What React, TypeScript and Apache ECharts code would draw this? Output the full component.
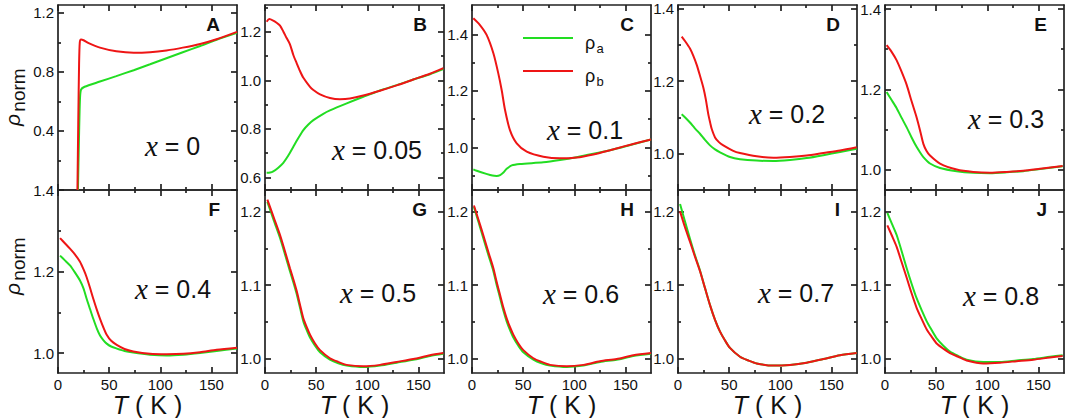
import React, { useEffect, useRef } from "react";
import * as echarts from "echarts";

// ---------------- data ----------------
const LETTERS = ["A", "B", "C", "D", "E", "F", "G", "H", "I", "J"];
const DOPING = ["0", "0.05", "0.1", "0.2", "0.3", "0.4", "0.5", "0.6", "0.7", "0.8"];
const T_MIN = 0;
const T_MAX = 175;
const T_TICKS = [0, 50, 100, 150];
const T_MINOR = [25, 75, 125];

// [T (K), rho_norm] pairs; *_a = rho_a (green), *_b = rho_b (red)
const A_a = [[19.5, 0], [20.5, 0.35], [21.5, 0.62], [22.5, 0.68], [26, 0.7], [41, 0.735], [57, 0.772], [74, 0.812], [90, 0.852], [106, 0.893], [122, 0.934], [139, 0.976], [155, 1.018], [175, 1.065]];
const A_b = [[19, 0], [19.8, 0.45], [20.6, 0.85], [21.3, 1.0], [22.5, 1.02], [25, 1.015], [30, 0.995], [41, 0.965], [57, 0.94], [74, 0.93], [90, 0.934], [106, 0.946], [122, 0.965], [139, 0.99], [155, 1.022], [175, 1.072]];
const B_a = [[1.6, 0.619], [5, 0.62], [8.1, 0.625], [13, 0.64], [17.9, 0.66], [22.8, 0.69], [27.7, 0.726], [32.6, 0.762], [37.5, 0.795], [42.4, 0.818], [47.3, 0.836], [57, 0.862], [63.5, 0.876], [79.9, 0.905], [96.1, 0.932], [112.4, 0.958], [128.7, 0.98], [145, 1.003], [161.3, 1.025], [174.3, 1.046]];
const B_b = [[1.6, 1.241], [4.2, 1.252], [8, 1.246], [11, 1.238], [14.7, 1.225], [18, 1.2], [21, 1.175], [24.4, 1.148], [27.7, 1.104], [31, 1.07], [34.2, 1.038], [37.5, 1.01], [44, 0.973], [47.3, 0.96], [53.8, 0.942], [63.5, 0.927], [73.3, 0.922], [83.1, 0.925], [96.1, 0.937], [112.4, 0.957], [128.7, 0.979], [145, 1.003], [161.3, 1.027], [174.3, 1.05]];
const C_a = [[1.3, 0.922], [4.6, 0.917], [14, 0.906], [20, 0.9], [24.1, 0.899], [27.5, 0.902], [31, 0.912], [33.9, 0.924], [38.8, 0.936], [46.9, 0.941], [69.7, 0.947], [86, 0.955], [102.3, 0.965], [118.6, 0.977], [134.9, 0.99], [151.2, 1.005], [175, 1.028]];
const C_b = [[1.3, 1.457], [7.8, 1.433], [14.3, 1.398], [20.9, 1.333], [25.7, 1.262], [29, 1.203], [32.3, 1.132], [37.1, 1.061], [43.7, 1.014], [53.5, 0.985], [69.7, 0.967], [86, 0.961], [102.3, 0.964], [118.6, 0.975], [134.9, 0.99], [151.2, 1.006], [175, 1.028]];
const D_a = [[3.6, 1.109], [7, 1.1], [11.7, 1.086], [16.5, 1.07], [21.5, 1.055], [26.4, 1.038], [31.3, 1.023], [36.2, 1.012], [41.1, 1.004], [50.8, 0.991], [60.6, 0.985], [76.9, 0.981], [93.2, 0.98], [109.5, 0.983], [125.8, 0.988], [142.1, 0.996], [158.4, 1.005], [174.7, 1.014]];
const D_b = [[3.6, 1.323], [7, 1.31], [11.7, 1.29], [15, 1.27], [18.3, 1.245], [21.5, 1.215], [24.8, 1.182], [27.2, 1.15], [29.6, 1.109], [31.5, 1.085], [33, 1.068], [36.2, 1.045], [40, 1.032], [44.3, 1.023], [54, 1.008], [60.6, 1.002], [76.9, 0.993], [93.2, 0.989], [109.5, 0.991], [125.8, 0.995], [142.1, 1.002], [158.4, 1.009], [174.7, 1.018]];
const E_a = [[1.6, 1.193], [6, 1.175], [11.4, 1.153], [16, 1.13], [21.2, 1.105], [26, 1.08], [31, 1.056], [34.5, 1.042], [37.5, 1.031], [44, 1.015], [53.8, 1.004], [70.1, 0.996], [86.3, 0.992], [102.6, 0.991], [119, 0.993], [135.2, 0.996], [151.5, 1.001], [173.7, 1.008]];
const E_b = [[1.6, 1.31], [6, 1.295], [11.4, 1.272], [16, 1.245], [21.2, 1.211], [26, 1.17], [31, 1.129], [34.5, 1.095], [37.5, 1.064], [40.5, 1.047], [44, 1.035], [53.8, 1.015], [70.1, 1.0], [86.3, 0.994], [102.6, 0.992], [119, 0.994], [135.2, 0.997], [151.5, 1.002], [173.7, 1.009]];
const F_a = [[2, 1.239], [6.5, 1.228], [11.7, 1.215], [16.5, 1.198], [21.5, 1.178], [25, 1.158], [28, 1.133], [31.3, 1.108], [34.5, 1.084], [38, 1.06], [41.1, 1.043], [44.5, 1.031], [47.6, 1.023], [52, 1.016], [57.4, 1.011], [65, 1.005], [73.6, 1.001], [89.9, 0.996], [106.3, 0.994], [122.5, 0.996], [138.8, 1.0], [155.1, 1.005], [175, 1.011]];
const F_b = [[2, 1.282], [6.5, 1.27], [11.7, 1.256], [16.5, 1.242], [21.5, 1.224], [25, 1.205], [28, 1.186], [31.3, 1.16], [34.5, 1.133], [38, 1.106], [41.1, 1.084], [44.5, 1.062], [47.6, 1.045], [52, 1.03], [57.4, 1.02], [65, 1.01], [73.6, 1.004], [89.9, 0.998], [106.3, 0.997], [122.5, 0.998], [138.8, 1.002], [155.1, 1.008], [175, 1.013]];
const G_a = [[2.3, 1.213], [8.5, 1.188], [14.7, 1.164], [19.5, 1.142], [24.4, 1.119], [27.7, 1.104], [31, 1.088], [34.3, 1.069], [37.5, 1.051], [40.8, 1.039], [44, 1.029], [48.9, 1.018], [53.8, 1.009], [63.5, 0.999], [71.7, 0.994], [79.9, 0.991], [96.1, 0.989], [112.4, 0.991], [128.7, 0.995], [145, 0.999], [161.3, 1.004], [174.3, 1.007]];
const G_b = [[2.3, 1.216], [8.5, 1.192], [14.7, 1.168], [19.5, 1.146], [24.4, 1.123], [27.7, 1.108], [31, 1.092], [34.3, 1.073], [37.5, 1.055], [40.8, 1.043], [44, 1.033], [48.9, 1.021], [53.8, 1.012], [63.5, 1.001], [71.7, 0.996], [79.9, 0.992], [96.1, 0.99], [112.4, 0.992], [128.7, 0.996], [145, 1.0], [161.3, 1.005], [174.3, 1.008]];
const H_a = [[1.9, 1.206], [6.5, 1.185], [11, 1.164], [16, 1.141], [20.9, 1.119], [24, 1.101], [27.4, 1.083], [30.6, 1.066], [33.9, 1.051], [37.2, 1.039], [40.4, 1.029], [45.3, 1.018], [50.2, 1.009], [60, 0.999], [68, 0.994], [76.3, 0.991], [92.6, 0.989], [108.9, 0.991], [125.1, 0.996], [141.4, 0.999], [157.7, 1.004], [175, 1.007]];
const H_b = [[1.9, 1.208], [6.5, 1.188], [11, 1.168], [16, 1.145], [20.9, 1.123], [24, 1.105], [27.4, 1.087], [30.6, 1.07], [33.9, 1.055], [37.2, 1.043], [40.4, 1.033], [45.3, 1.021], [50.2, 1.012], [60, 1.001], [68, 0.996], [76.3, 0.992], [92.6, 0.99], [108.9, 0.992], [125.1, 0.997], [141.4, 1.0], [157.7, 1.005], [175, 1.008]];
const I_a = [[2, 1.21], [6.5, 1.188], [11.7, 1.163], [16.5, 1.141], [21.5, 1.12], [26.4, 1.096], [31.3, 1.073], [36.2, 1.053], [41.1, 1.037], [46, 1.025], [50.8, 1.015], [60.6, 1.003], [68.7, 0.998], [76.9, 0.994], [93.2, 0.991], [109.5, 0.992], [125.8, 0.995], [142.1, 1.0], [158.4, 1.005], [174.7, 1.008]];
const I_b = [[2, 1.2], [6.5, 1.18], [11.7, 1.159], [16.5, 1.139], [21.5, 1.119], [26.4, 1.096], [31.3, 1.073], [36.2, 1.053], [41.1, 1.037], [46, 1.025], [50.8, 1.015], [60.6, 1.003], [68.7, 0.998], [76.9, 0.994], [93.2, 0.991], [109.5, 0.992], [125.8, 0.995], [142.1, 1.0], [158.4, 1.005], [174.7, 1.008]];
const J_a = [[2.3, 1.198], [6.8, 1.183], [11.4, 1.168], [16.3, 1.146], [21.2, 1.123], [26, 1.102], [31, 1.082], [35.9, 1.066], [40.8, 1.051], [45.7, 1.039], [50.5, 1.028], [57, 1.018], [63.5, 1.01], [71.7, 1.004], [79.8, 0.999], [96.1, 0.996], [112.4, 0.996], [128.7, 0.998], [145, 1.0], [161.3, 1.003], [173.7, 1.005]];
const J_b = [[2.3, 1.181], [6.8, 1.167], [11.4, 1.152], [16.3, 1.131], [21.2, 1.11], [26, 1.089], [31, 1.069], [35.9, 1.054], [40.8, 1.04], [45.7, 1.03], [50.5, 1.021], [57, 1.014], [63.5, 1.008], [71.7, 1.003], [79.8, 0.998], [96.1, 0.994], [112.4, 0.995], [128.7, 0.997], [145, 0.999], [161.3, 1.002], [173.7, 1.004]];

const RHO_A = [A_a, B_a, C_a, D_a, E_a, F_a, G_a, H_a, I_a, J_a];
const RHO_B = [A_b, B_b, C_b, D_b, E_b, F_b, G_b, H_b, I_b, J_b];

// y axis ranges and tick values per panel
const Y_RANGE = [[0, 1.254], [0.548, 1.31], [0.849, 1.504], [0.9, 1.41], [0.949, 1.41], [0.951, 1.4], [0.981, 1.229], [0.981, 1.229], [0.981, 1.229], [0.981, 1.229]];
const Y_LABELS = [[0.4, 0.8, 1.2], [0.6, 0.8, 1.0, 1.2], [1.0, 1.2, 1.4], [1.0, 1.2, 1.4], [1.0, 1.2, 1.4], [1.0, 1.2, 1.4], [1.0, 1.1, 1.2], [1.0, 1.1, 1.2], [1.0, 1.1, 1.2], [1.0, 1.1, 1.2]];
const Y_MAJOR = [[0, 0.4, 0.8, 1.2], [0.6, 0.8, 1.0, 1.2], [1.0, 1.2, 1.4], [1.0, 1.2, 1.4], [1.0, 1.2, 1.4], [1.0, 1.2, 1.4], [1.0, 1.1, 1.2], [1.0, 1.1, 1.2], [1.0, 1.1, 1.2], [1.0, 1.1, 1.2]];
const Y_MINOR = [[0.2, 0.6, 1.0], [0.7, 0.9, 1.1, 1.3], [0.9, 1.1, 1.3], [1.1, 1.3], [1.1, 1.3], [1.1, 1.3], [1.05, 1.15], [1.05, 1.15], [1.05, 1.15], [1.05, 1.15]];

// ---------------- layout ----------------
const COL_LEFT = [58, 265, 472, 678, 885];
const PANEL_W = 179;
const ROW_TOP = [5, 190];
const ROW_H = [185, 183];
// left x / baseline y of "x = ..." labels
const DOP_POS = [[145, 155], [332, 159], [547, 139], [749, 123], [968, 128], [135, 298], [340, 302], [543, 303], [758, 302], [963, 305]];

const GREEN = "#22dd22";
const RED = "#ee1515";
const AXIS = "#222222";
const TXT = "#111111";
const SANS = '"Liberation Sans", Arial, sans-serif';
const SERIF = '"Liberation Serif", "Times New Roman", serif';

function buildOption() {
  const grid: any[] = [];
  const xAxis: any[] = [];
  const yAxis: any[] = [];
  const series: any[] = [];
  const elements: any[] = [];
  const lineStyle = { color: AXIS, width: 1.7 };

  for (let i = 0; i < 10; i++) {
    const row = Math.floor(i / 5);
    const col = i % 5;
    const left = COL_LEFT[col];
    const top = ROW_TOP[row];
    const h = ROW_H[row];
    grid.push({ left, top, width: PANEL_W, height: h, show: false, containLabel: false, outerBoundsMode: "none" });

    const xBase = { type: "value", gridIndex: i, min: T_MIN, max: T_MAX, splitLine: { show: false } };
    const xi = xAxis.length;
    xAxis.push({
      ...xBase,
      position: "bottom",
      axisLine: { show: true, onZero: false, lineStyle },
      axisTick: { show: true, inside: true, length: 6, customValues: T_TICKS, lineStyle },
      axisLabel: row === 1
        ? { show: true, customValues: T_TICKS, margin: 4, fontSize: 15, color: TXT, fontFamily: SANS }
        : { show: false },
      name: row === 1 ? "{i|T}{r| ( K )}" : "",
      nameLocation: "middle",
      nameGap: 13,
      nameTextStyle: {
        fontSize: 25, color: TXT, fontFamily: SANS,
        rich: {
          i: { fontStyle: "italic", fontSize: 25, fontFamily: SANS, color: TXT },
          r: { fontSize: 25, fontFamily: SANS, color: TXT },
        },
      },
    });
    xAxis.push({
      ...xBase, position: "top",
      axisLine: { show: true, onZero: false, lineStyle },
      axisTick: { show: true, inside: true, length: 6, customValues: T_TICKS, lineStyle },
      axisLabel: { show: false },
    });
    xAxis.push({
      ...xBase, position: "bottom",
      axisLine: { show: false, onZero: false },
      axisTick: { show: true, inside: true, length: 3, customValues: T_MINOR, lineStyle },
      axisLabel: { show: false },
    });
    xAxis.push({
      ...xBase, position: "top",
      axisLine: { show: false, onZero: false },
      axisTick: { show: true, inside: true, length: 3, customValues: T_MINOR, lineStyle },
      axisLabel: { show: false },
    });

    const yBase = { type: "value", gridIndex: i, min: Y_RANGE[i][0], max: Y_RANGE[i][1], splitLine: { show: false } };
    const yi = yAxis.length;
    yAxis.push({
      ...yBase, position: "left",
      axisLine: { show: true, onZero: false, lineStyle },
      axisTick: { show: true, inside: true, length: 6, customValues: Y_MAJOR[i], lineStyle },
      axisLabel: {
        show: true, customValues: Y_LABELS[i], margin: 4, fontSize: 15, color: TXT, fontFamily: SANS,
        formatter: (v: number) => v.toFixed(1),
      },
    });
    yAxis.push({
      ...yBase, position: "right",
      axisLine: { show: true, onZero: false, lineStyle },
      axisTick: { show: true, inside: true, length: 6, customValues: Y_MAJOR[i], lineStyle },
      axisLabel: { show: false },
    });
    yAxis.push({
      ...yBase, position: "left",
      axisLine: { show: false, onZero: false },
      axisTick: { show: true, inside: true, length: 3, customValues: Y_MINOR[i], lineStyle },
      axisLabel: { show: false },
    });
    yAxis.push({
      ...yBase, position: "right",
      axisLine: { show: false, onZero: false },
      axisTick: { show: true, inside: true, length: 3, customValues: Y_MINOR[i], lineStyle },
      axisLabel: { show: false },
    });

    series.push({
      type: "line", name: "ρa", xAxisIndex: xi, yAxisIndex: yi, data: RHO_A[i],
      showSymbol: false, symbol: "none", smooth: 0.25, z: 2,
      lineStyle: { color: GREEN, width: 2 }, itemStyle: { color: GREEN },
    });
    series.push({
      type: "line", name: "ρb", xAxisIndex: xi, yAxisIndex: yi, data: RHO_B[i],
      showSymbol: false, symbol: "none", smooth: 0.25, z: 3,
      lineStyle: { color: RED, width: 2 }, itemStyle: { color: RED },
    });

    // panel letter
    elements.push({
      type: "text",
      x: left + PANEL_W - 17, y: top + 19,
      style: {
        text: LETTERS[i], fill: TXT, font: `bold 19px ${SANS}`,
        align: "right", verticalAlign: "middle", textAlign: "right", textVerticalAlign: "middle",
      },
    });
    // doping label
    elements.push({
      type: "text",
      x: DOP_POS[i][0], y: DOP_POS[i][1] - 9,
      style: {
        text: `{v|x}{n| = ${DOPING[i]}}`,
        align: "left", verticalAlign: "middle", textAlign: "left", textVerticalAlign: "middle",
        rich: {
          v: { font: `italic 29px ${SERIF}`, fontFamily: SERIF, fontStyle: "italic", fontSize: 29, fill: TXT },
          n: { font: `25px ${SANS}`, fontFamily: SANS, fontSize: 25, fill: TXT },
        },
      },
    });
  }

  // y titles (rho_norm): [rho x, rho y, norm x, norm y]
  const yTitles = [[12.3, 120, 18.5, 90], [12.3, 289, 18.5, 259]];
  yTitles.forEach(([rx, ry, nx, ny]) => {
    elements.push({
      type: "text", x: rx, y: ry, rotation: Math.PI / 2,
      style: {
        text: "ρ", fill: TXT, font: `italic 21px ${SANS}`,
        align: "center", verticalAlign: "middle", textAlign: "center", textVerticalAlign: "middle",
      },
    });
    elements.push({
      type: "text", x: nx, y: ny, rotation: Math.PI / 2,
      style: {
        text: "norm", fill: TXT, font: `19px ${SANS}`,
        align: "center", verticalAlign: "middle", textAlign: "center", textVerticalAlign: "middle",
      },
    });
  });

  // legend in panel C
  const legendItems = [["a", GREEN, 38], ["b", RED, 71]];
  legendItems.forEach(([sub, color, y]: any) => {
    elements.push({
      type: "line", shape: { x1: 523, y1: y, x2: 573, y2: y },
      style: { stroke: color, lineWidth: 2 },
    });
    elements.push({
      type: "text", x: 585, y: y + 5,
      style: {
        text: "ρ", fill: TXT, font: `18px ${SANS}`,
        align: "left", verticalAlign: "middle", textAlign: "left", textVerticalAlign: "middle",
      },
    });
    elements.push({
      type: "text", x: 596.5, y: y + 10,
      style: {
        text: sub, fill: TXT, font: `13px ${SANS}`,
        align: "left", verticalAlign: "middle", textAlign: "left", textVerticalAlign: "middle",
      },
    });
  });

  return {
    animation: false,
    backgroundColor: "#ffffff",
    grid,
    xAxis,
    yAxis,
    series,
    graphic: { elements },
  };
}

export default function App() {
  const ref = useRef<HTMLDivElement | null>(null);
  useEffect(() => {
    if (!ref.current) return;
    const chart = echarts.init(ref.current, undefined, { renderer: "svg", width: 1065, height: 418 });
    chart.setOption(buildOption() as any);
    return () => chart.dispose();
  }, []);
  return (
    <div
      ref={ref}
      style={{ position: "absolute", left: 0, top: 0, width: 1065, height: 418, background: "#fff" }}
    />
  );
}
